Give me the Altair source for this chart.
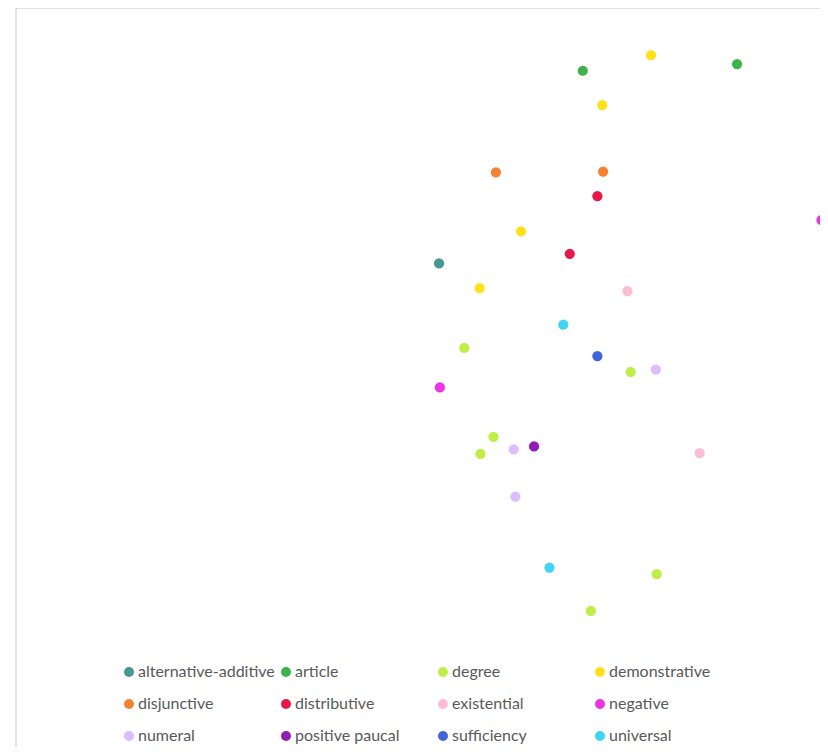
import altair as alt
import pandas as pd

categories = ["alternative-additive", "article", "degree", "demonstrative",
              "disjunctive", "distributive", "existential", "negative",
              "numeral", "positive paucal", "sufficiency", "universal"]
colors = ["#469990", "#3cb44b", "#bfef45", "#ffe119",
          "#f58231", "#e6194b", "#fabed4", "#f032e6",
          "#dcbeff", "#911eb4", "#4363d8", "#42d4f4"]

point_category = ["article", "article",
                  "demonstrative", "demonstrative", "demonstrative", "demonstrative",
                  "disjunctive", "disjunctive",
                  "distributive", "distributive",
                  "negative", "negative",
                  "alternative-additive",
                  "existential", "existential",
                  "universal", "universal",
                  "degree", "degree", "degree", "degree", "degree", "degree",
                  "sufficiency",
                  "numeral", "numeral", "numeral",
                  "positive paucal"]
x_values = [19.8, 38.8,
            28.2, 22.2, 12.2, 7.1,
            9.1, 22.3,
            21.6, 18.2,
            49.2, 2.2,
            2.1,
            25.3, 34.2,
            17.4, 15.7,
            5.2, 25.7, 8.8, 7.2, 28.9, 20.8,
            21.6,
            28.8, 11.3, 11.5,
            13.8]
y_values = [41.6, 42.5,
            43.7, 37.0, 20.1, 12.5,
            28.0, 28.1,
            24.8, 17.1,
            21.6, -0.8,
            15.8,
            12.1, -9.6,
            7.6, -24.9,
            4.5, 1.3, -7.4, -9.7, -25.8, -30.7,
            3.4,
            1.6, -9.1, -15.4,
            -8.7]

df = pd.DataFrame({"x": x_values, "y": y_values, "category": point_category})

W, H = 804, 739
x_domain = [-50, -50 + 100 * W / 812]
y_domain = [50 - 100 * H / 747, 50]

points = alt.Chart(df).mark_circle(size=105, opacity=1).encode(
    x=alt.X("x:Q", axis=None, scale=alt.Scale(domain=x_domain, nice=False, zero=False)),
    y=alt.Y("y:Q", axis=None, scale=alt.Scale(domain=y_domain, nice=False, zero=False)),
    color=alt.Color("category:N",
                    scale=alt.Scale(domain=categories, range=colors),
                    legend=alt.Legend(title=None, orient="none", legendX=105, legendY=656,
                                      direction="horizontal",
                                      columns=4, gridAlign="all", columnPadding=3,
                                      rowPadding=16, padding=0,
                                      symbolType="circle", symbolSize=100,
                                      symbolStrokeWidth=0, symbolOpacity=1,
                                      labelFont="Lato", labelFontSize=16,
                                      labelColor="#595959", labelOffset=1,
                                      labelLimit=300)),
)

top_line = alt.Chart(pd.DataFrame({"a": [0]})).mark_rule(color="#d9d9d9", strokeWidth=1.5).encode(
    x=alt.value(0), x2=alt.value(W), y=alt.value(0))
left_line = alt.Chart(pd.DataFrame({"a": [0]})).mark_rule(color="#d9d9d9", strokeWidth=1.5).encode(
    x=alt.value(0), y=alt.value(0), y2=alt.value(H))

chart = alt.layer(top_line, left_line, points).properties(
    width=W, height=H,
    padding={"left": 8, "top": 0, "right": 0, "bottom": 0},
    autosize=alt.AutoSizeParams(type="none"),
).configure_view(stroke=None)

chart.save("out.html", embed_options={"renderer": "svg", "actions": False})
